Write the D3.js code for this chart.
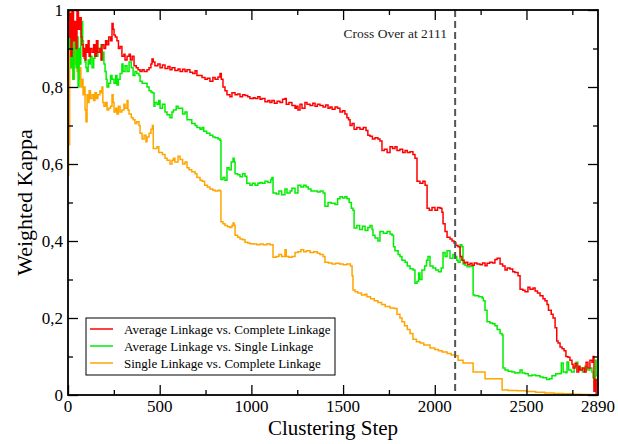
<!DOCTYPE html>
<html><head><meta charset="utf-8">
<script src="https://cdn.jsdelivr.net/npm/d3@7"></script>
<style>body{margin:0;background:#fff}svg{display:block}text{font-family:"Liberation Serif","Times New Roman",serif}</style>
</head><body>
<svg id="c" width="618" height="444"></svg>
<script>
const xTicks=[0,500,1000,1500,2000,2500,2890];
const yTicks=[0,0.2,0.4,0.6,0.8,1];
const yTickLabels=["0","0,2","0,4","0,6","0,8","1"];
const seriesNames=["Average Linkage vs. Complete Linkage","Average Linkage vs. Single Linkage","Single Linkage vs. Complete Linkage"];
const crossOver=2111;

const redData=[[0,1.0],[5,0.93],[10,0.99],[16,0.88],[22,1.0],[30,0.92],[38,0.97],[44,0.9],[49,1.0],[57,0.95],[65,0.98],[72,0.93],[76,0.91],[82,0.88],[87,0.9],[93,0.87],[98,0.91],[104,0.89],[110,0.92],[115,0.88],[122,0.90],[131,0.89],[140,0.91],[147,0.88],[155,0.92],[163,0.89],[174,0.9],[180,0.87],[185,0.91],[196,0.9],[205,0.92],[213,0.91],[222,0.93],[232,0.92],[240,0.965],[246,0.95],[251,0.935],[258,0.93],[267,0.92],[275,0.90],[284,0.905],[294,0.88],[305,0.885],[311,0.87],[322,0.88],[333,0.885],[340,0.87],[350,0.88],[360,0.855],[372,0.85],[382,0.845],[393,0.84],[404,0.845],[415,0.84],[431,0.845],[442,0.85],[452,0.86],[458,0.873],[465,0.865],[474,0.855],[490,0.86],[502,0.85],[515,0.857],[529,0.848],[545,0.853],[556,0.845],[567,0.85],[583,0.843],[600,0.847],[611,0.84],[625,0.846],[638,0.84],[649,0.845],[665,0.838],[680,0.835],[693,0.842],[703,0.83],[720,0.83],[731,0.825],[747,0.82],[760,0.823],[774,0.815],[790,0.825],[802,0.82],[818,0.826],[829,0.835],[836,0.82],[845,0.80],[856,0.79],[867,0.78],[883,0.775],[894,0.785],[911,0.78],[925,0.782],[938,0.775],[952,0.78],[965,0.778],[980,0.775],[992,0.77],[1010,0.772],[1020,0.77],[1035,0.775],[1047,0.768],[1058,0.77],[1074,0.762],[1090,0.765],[1101,0.76],[1112,0.765],[1125,0.758],[1140,0.763],[1156,0.76],[1170,0.768],[1183,0.77],[1190,0.755],[1205,0.76],[1221,0.752],[1238,0.745],[1245,0.75],[1254,0.74],[1265,0.755],[1276,0.745],[1292,0.76],[1303,0.755],[1320,0.752],[1335,0.758],[1347,0.75],[1360,0.755],[1374,0.752],[1391,0.748],[1405,0.753],[1418,0.745],[1429,0.748],[1440,0.742],[1456,0.748],[1470,0.745],[1483,0.735],[1497,0.738],[1510,0.73],[1521,0.72],[1530,0.715],[1538,0.70],[1549,0.705],[1560,0.69],[1575,0.695],[1592,0.69],[1610,0.695],[1625,0.687],[1635,0.675],[1647,0.672],[1660,0.665],[1674,0.668],[1690,0.665],[1701,0.66],[1712,0.635],[1725,0.638],[1740,0.63],[1756,0.645],[1770,0.64],[1783,0.645],[1794,0.635],[1810,0.638],[1825,0.63],[1838,0.635],[1850,0.63],[1865,0.632],[1881,0.625],[1892,0.615],[1903,0.555],[1919,0.55],[1935,0.555],[1947,0.545],[1958,0.485],[1970,0.48],[1985,0.487],[2001,0.48],[2015,0.487],[2029,0.485],[2039,0.475],[2045,0.445],[2056,0.425],[2067,0.41],[2083,0.405],[2094,0.40],[2105,0.395],[2115,0.388],[2127,0.385],[2138,0.36],[2148,0.35],[2160,0.343],[2170,0.345],[2180,0.338],[2192,0.342],[2203,0.337],[2215,0.343],[2230,0.34],[2247,0.338],[2260,0.343],[2274,0.336],[2285,0.342],[2300,0.345],[2315,0.343],[2328,0.352],[2340,0.355],[2356,0.34],[2370,0.335],[2383,0.325],[2395,0.33],[2410,0.327],[2425,0.32],[2437,0.318],[2454,0.31],[2465,0.275],[2480,0.272],[2492,0.268],[2508,0.28],[2519,0.275],[2536,0.278],[2547,0.27],[2560,0.265],[2574,0.258],[2590,0.25],[2601,0.245],[2612,0.235],[2620,0.22],[2635,0.21],[2645,0.2],[2656,0.175],[2665,0.14],[2672,0.135],[2683,0.125],[2694,0.12],[2705,0.115],[2715,0.1],[2726,0.098],[2737,0.09],[2748,0.08],[2754,0.07],[2765,0.082],[2775,0.06],[2785,0.075],[2792,0.065],[2805,0.07],[2815,0.06],[2825,0.085],[2835,0.07],[2846,0.09],[2857,0.085],[2863,0.1],[2868,0.01],[2875,0.04],[2880,0.0],[2890,0.0]];

const greenData=[[0,1.0],[5,0.9],[11,0.97],[16,0.85],[22,0.95],[27,0.82],[33,0.9],[38,0.96],[44,0.85],[49,0.93],[55,0.8],[60,0.9],[65,0.86],[70,0.95],[76,0.97],[80,0.92],[84,0.9],[87,0.875],[93,0.865],[98,0.85],[104,0.84],[110,0.87],[115,0.86],[122,0.88],[131,0.85],[140,0.875],[147,0.9],[155,0.88],[163,0.9],[174,0.895],[180,0.91],[185,0.87],[190,0.89],[196,0.86],[202,0.84],[208,0.82],[213,0.80],[222,0.81],[232,0.83],[240,0.82],[251,0.81],[260,0.83],[267,0.805],[275,0.82],[284,0.835],[294,0.86],[300,0.84],[311,0.855],[322,0.84],[333,0.865],[345,0.85],[355,0.83],[365,0.84],[375,0.835],[387,0.83],[393,0.815],[404,0.81],[420,0.81],[431,0.80],[442,0.79],[452,0.787],[460,0.785],[469,0.75],[474,0.76],[485,0.755],[495,0.765],[502,0.745],[515,0.755],[529,0.735],[540,0.728],[556,0.72],[567,0.735],[575,0.74],[590,0.75],[600,0.745],[611,0.745],[625,0.73],[638,0.735],[649,0.715],[660,0.715],[675,0.705],[693,0.70],[703,0.695],[720,0.69],[731,0.695],[740,0.685],[756,0.68],[774,0.675],[790,0.67],[802,0.668],[818,0.665],[829,0.662],[834,0.56],[845,0.565],[856,0.558],[867,0.59],[878,0.585],[890,0.605],[900,0.615],[906,0.605],[911,0.575],[925,0.572],[938,0.567],[952,0.575],[965,0.568],[975,0.55],[992,0.545],[1005,0.55],[1020,0.545],[1035,0.55],[1047,0.552],[1058,0.55],[1074,0.555],[1090,0.552],[1106,0.56],[1112,0.565],[1118,0.525],[1135,0.522],[1150,0.53],[1165,0.52],[1183,0.535],[1194,0.525],[1211,0.53],[1221,0.537],[1238,0.525],[1254,0.545],[1270,0.54],[1285,0.545],[1298,0.54],[1310,0.535],[1325,0.53],[1340,0.53],[1360,0.527],[1375,0.53],[1391,0.525],[1401,0.49],[1418,0.50],[1435,0.498],[1456,0.495],[1470,0.51],[1483,0.515],[1497,0.512],[1510,0.515],[1521,0.51],[1533,0.50],[1545,0.485],[1554,0.48],[1560,0.434],[1575,0.44],[1590,0.43],[1605,0.438],[1620,0.427],[1635,0.435],[1647,0.44],[1658,0.43],[1663,0.415],[1674,0.408],[1690,0.40],[1701,0.425],[1720,0.42],[1740,0.425],[1756,0.418],[1767,0.415],[1775,0.385],[1783,0.375],[1800,0.365],[1810,0.36],[1821,0.35],[1838,0.345],[1850,0.335],[1865,0.328],[1881,0.325],[1892,0.29],[1903,0.295],[1912,0.317],[1919,0.30],[1930,0.325],[1945,0.335],[1955,0.35],[1963,0.36],[1974,0.335],[1990,0.33],[2005,0.325],[2020,0.32],[2035,0.33],[2045,0.37],[2056,0.36],[2067,0.375],[2083,0.355],[2099,0.365],[2110,0.36],[2120,0.35],[2127,0.345],[2138,0.39],[2148,0.385],[2154,0.34],[2165,0.337],[2176,0.333],[2192,0.335],[2203,0.334],[2209,0.26],[2219,0.258],[2240,0.255],[2258,0.252],[2265,0.245],[2274,0.22],[2285,0.19],[2301,0.187],[2315,0.185],[2328,0.18],[2340,0.17],[2356,0.16],[2367,0.156],[2372,0.07],[2383,0.065],[2400,0.062],[2420,0.06],[2437,0.057],[2454,0.058],[2465,0.065],[2476,0.057],[2492,0.055],[2510,0.05],[2530,0.052],[2550,0.05],[2574,0.047],[2590,0.045],[2610,0.04],[2625,0.042],[2639,0.05],[2660,0.055],[2683,0.056],[2690,0.083],[2700,0.06],[2715,0.058],[2721,0.086],[2730,0.065],[2745,0.06],[2760,0.075],[2770,0.085],[2780,0.065],[2792,0.07],[2805,0.06],[2819,0.075],[2830,0.065],[2846,0.07],[2857,0.06],[2863,0.045],[2870,0.02],[2876,0.09],[2880,0.05],[2890,0.02]];

const orangeData=[[0,0.57],[3,0.8],[6,0.65],[9,0.9],[11,1.0],[16,0.85],[22,0.95],[27,0.82],[33,0.92],[38,0.86],[44,0.93],[49,0.84],[55,0.88],[60,0.82],[65,0.85],[70,0.80],[76,0.82],[82,0.78],[87,0.80],[93,0.74],[98,0.71],[104,0.78],[110,0.76],[115,0.79],[122,0.77],[131,0.78],[140,0.765],[147,0.785],[155,0.77],[163,0.78],[174,0.79],[180,0.785],[185,0.80],[190,0.76],[196,0.75],[205,0.76],[213,0.74],[222,0.745],[232,0.75],[240,0.78],[246,0.76],[251,0.735],[260,0.745],[267,0.73],[275,0.75],[284,0.735],[294,0.74],[305,0.755],[311,0.745],[322,0.765],[327,0.74],[333,0.73],[345,0.72],[355,0.715],[365,0.705],[375,0.71],[387,0.70],[393,0.68],[404,0.665],[415,0.675],[425,0.658],[431,0.67],[442,0.68],[452,0.69],[460,0.70],[465,0.64],[474,0.64],[485,0.645],[495,0.63],[502,0.63],[515,0.625],[529,0.615],[540,0.61],[556,0.6],[567,0.61],[575,0.615],[583,0.605],[600,0.62],[611,0.612],[625,0.6],[638,0.605],[649,0.59],[660,0.585],[675,0.58],[693,0.575],[703,0.565],[720,0.558],[731,0.555],[745,0.545],[760,0.54],[774,0.535],[790,0.532],[802,0.53],[818,0.532],[829,0.53],[834,0.45],[845,0.445],[856,0.44],[870,0.437],[883,0.435],[894,0.44],[900,0.447],[906,0.44],[911,0.415],[925,0.41],[938,0.405],[952,0.403],[965,0.397],[980,0.395],[992,0.393],[1010,0.392],[1030,0.39],[1047,0.392],[1065,0.39],[1085,0.393],[1101,0.39],[1112,0.39],[1118,0.358],[1135,0.36],[1150,0.365],[1165,0.36],[1183,0.377],[1190,0.36],[1205,0.358],[1221,0.36],[1238,0.37],[1254,0.372],[1270,0.377],[1285,0.372],[1300,0.375],[1320,0.37],[1340,0.372],[1360,0.368],[1374,0.365],[1391,0.36],[1401,0.345],[1420,0.343],[1440,0.34],[1460,0.342],[1480,0.34],[1500,0.338],[1520,0.34],[1540,0.335],[1549,0.31],[1554,0.273],[1565,0.268],[1580,0.265],[1600,0.26],[1620,0.262],[1630,0.255],[1650,0.25],[1670,0.245],[1690,0.24],[1710,0.235],[1730,0.23],[1756,0.226],[1780,0.225],[1794,0.21],[1810,0.20],[1821,0.19],[1835,0.18],[1850,0.17],[1865,0.16],[1881,0.145],[1900,0.138],[1920,0.135],[1940,0.13],[1974,0.122],[2000,0.118],[2020,0.115],[2040,0.112],[2067,0.108],[2090,0.104],[2110,0.102],[2127,0.09],[2154,0.083],[2209,0.06],[2274,0.042],[2367,0.013],[2400,0.012],[2450,0.011],[2500,0.009],[2550,0.007],[2600,0.005],[2650,0.004],[2700,0.003],[2750,0.002],[2800,0.001],[2850,0.0],[2890,0.0]];

const colors=["#ff0000","#00ee00","#ffa500"];
const allSeries=[redData,greenData,orangeData];

const svg=d3.select("#c");
const L=68,R=598,T=10,B=395;
const x=d3.scaleLinear().domain([0,2890]).range([L,R]);
const y=d3.scaleLinear().domain([0,1]).range([B,T]);

const plot=svg.append("g");
plot.append("defs").append("clipPath").attr("id","clip").append("rect").attr("x",L).attr("y",T).attr("width",R-L).attr("height",B-T);

const line=d3.line().x(d=>x(d[0])).y(d=>y(d[1])).curve(d3.curveStepAfter);
[2,1,0].forEach(i=>{
  plot.append("path").datum(allSeries[i]).attr("d",line).attr("fill","none")
    .attr("stroke",colors[i]).attr("stroke-width",1.5).attr("clip-path","url(#clip)");
});

svg.append("line").attr("x1",x(crossOver)).attr("x2",x(crossOver)).attr("y1",T).attr("y2",B)
  .attr("stroke","#555").attr("stroke-width",2).attr("stroke-dasharray","7,4");
svg.append("text").attr("x",x(crossOver)-8).attr("y",38).attr("text-anchor","end")
  .attr("font-size",13.5).attr("fill","#222").text("Cross Over at "+crossOver);

const majorX=[0,500,1000,1500,2000,2500];
const minorX=d3.range(250,2890,500);
svg.append("g").attr("transform",`translate(0,${B})`)
  .call(d3.axisBottom(x).tickValues(majorX).tickSize(-10).tickFormat(""));
svg.append("g").attr("transform",`translate(0,${B})`)
  .call(d3.axisBottom(x).tickValues(minorX).tickSize(-5).tickFormat(""));
svg.append("g").attr("transform",`translate(0,${T})`)
  .call(d3.axisTop(x).tickValues(majorX).tickSize(-10).tickFormat(""));
svg.append("g").attr("transform",`translate(0,${T})`)
  .call(d3.axisTop(x).tickValues(minorX).tickSize(-5).tickFormat(""));
const majorY=yTicks, minorY=[0.1,0.3,0.5,0.7,0.9];
svg.append("g").attr("transform",`translate(${L},0)`)
  .call(d3.axisLeft(y).tickValues(majorY).tickSize(-10).tickFormat(""));
svg.append("g").attr("transform",`translate(${L},0)`)
  .call(d3.axisLeft(y).tickValues(minorY).tickSize(-5).tickFormat(""));
svg.append("g").attr("transform",`translate(${R},0)`)
  .call(d3.axisRight(y).tickValues(majorY).tickSize(-10).tickFormat(""));
svg.append("g").attr("transform",`translate(${R},0)`)
  .call(d3.axisRight(y).tickValues(minorY).tickSize(-5).tickFormat(""));
svg.selectAll(".domain").remove();
svg.selectAll(".tick line").attr("stroke","#000").attr("stroke-width",1.3);

svg.append("rect").attr("x",L).attr("y",T).attr("width",R-L).attr("height",B-T)
  .attr("fill","none").attr("stroke","#000").attr("stroke-width",1.8);

svg.append("g").selectAll("text").data(xTicks).join("text")
  .attr("x",d=>x(d)).attr("y",B+17).attr("text-anchor","middle").attr("font-size",17)
  .text(d=>d);
svg.append("g").selectAll("text").data(yTicks).join("text")
  .attr("x",L-5).attr("y",d=>y(d)).attr("dy","0.35em").attr("text-anchor","end").attr("font-size",17)
  .text((d,i)=>yTickLabels[i]);

svg.append("text").attr("x",(L+R)/2).attr("y",435).attr("text-anchor","middle").attr("font-size",21).text("Clustering Step");
svg.append("text").attr("transform",`translate(32,${(T+B)/2}) rotate(-90)`).attr("text-anchor","middle").attr("font-size",22).text("Weighted Kappa");

const lg=svg.append("g");
lg.append("rect").attr("x",86).attr("y",318).attr("width",249).attr("height",57)
  .attr("fill","#fff").attr("stroke","#000").attr("stroke-width",1);
seriesNames.forEach((n,i)=>{
  const yy=329+i*17;
  lg.append("line").attr("x1",90).attr("x2",113).attr("y1",yy).attr("y2",yy).attr("stroke",colors[i]).attr("stroke-width",1.5);
  lg.append("text").attr("x",124).attr("y",yy).attr("dy","0.35em").attr("font-size",13).text(n);
});
</script>
</body></html>
